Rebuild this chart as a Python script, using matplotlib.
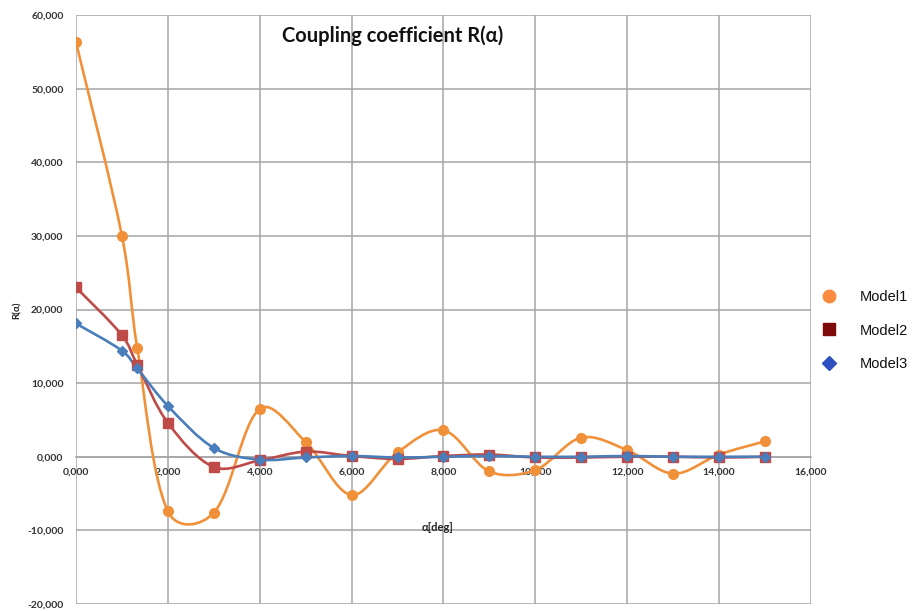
import numpy as np
import matplotlib
matplotlib.use("Agg")
import matplotlib.pyplot as plt
from matplotlib.path import Path
from matplotlib.patches import PathPatch
from matplotlib.lines import Line2D

# angle values shared by all three models
alpha = [0, 1, 1.333, 2, 3, 4, 5, 6, 7, 8, 9, 10, 11, 12, 13, 14, 15]

model1 = [56.3, 30.0, 14.8, -7.4, -7.6, 6.5, 2.0, -5.2, 0.6, 3.6, -2.0, -1.8, 2.6, 0.9, -2.3, 0.3, 2.1]
model2 = [23.0, 16.5, 12.5, 4.6, -1.4, -0.5, 0.7, 0.1, -0.3, 0.1, 0.3, -0.1, -0.1, 0.0, 0.0, -0.1, 0.0]
model3 = [18.1, 14.4, 12.0, 6.9, 1.2, -0.4, -0.1, 0.1, -0.1, 0.0, 0.1, 0.0, 0.0, 0.1, 0.0, 0.0, 0.0]

names = ["Model1", "Model2", "Model3"]
line_colors = ["#f0913a", "#be4b48", "#4a7ebb"]
legend_colors = ["#f98c3f", "#7e0a0a", "#2d4fbf"]
markers = ["o", "s", "D"]
msizes = [7, 7, 5.5]

FONT = "Lato"
# pixels per data unit, used to weight the curve tangents
SX, SY = 735 / 16, 589 / 80


def smooth_path(x, y):
    # Bezier curve through the points, tangents shortened next to short segments
    pts = np.column_stack([x, y]).astype(float)
    scr = pts * [SX, SY]
    n = len(pts)

    def dist(a, b):
        return np.hypot(*(scr[a] - scr[b]))

    def handle(i, j, k):
        # control offset at point j for the segment j -> k, with neighbour i on the other side
        d_in, d_out = dist(i, j), dist(j, k)
        w = (1 / 6 + d_out / (d_in + d_out) / 3) / 2 if d_in + d_out > 0 else 1 / 6
        return w

    verts = [pts[0]]
    codes = [Path.MOVETO]
    for i in range(n - 1):
        a = i - 1 if i > 0 else i
        d = i + 2 if i + 2 < n else i + 1
        w1 = handle(a, i, i + 1)
        w2 = handle(d, i + 1, i)
        c1 = pts[i] + (pts[i + 1] - pts[a]) * w1
        c2 = pts[i + 1] - (pts[d] - pts[i]) * w2
        verts += [c1, c2, pts[i + 1]]
        codes += [Path.CURVE4] * 3
    return Path(verts, codes)


def fmt(v, pos=None):
    return f"{v:.3f}".replace(".", ",")


fig = plt.figure(figsize=(9.14, 6.11), dpi=100)
ax = fig.add_axes([76 / 914, 7 / 611, 735 / 914, 589 / 611])

for ys, lc, mk, ms in zip([model1, model2, model3], line_colors, markers, msizes):
    ax.add_patch(PathPatch(smooth_path(alpha, ys), facecolor="none", edgecolor=lc, lw=1.9, zorder=3))
    ax.plot(alpha, ys, linestyle="none", marker=mk, markersize=ms, color=lc,
            markeredgecolor=lc, zorder=4)

ax.set_xlim(0, 16)
ax.set_ylim(-20, 60)
ax.set_xticks(np.arange(0, 17, 2))
ax.set_yticks(np.arange(-20, 61, 10))
ax.xaxis.set_major_formatter(plt.FuncFormatter(fmt))
ax.yaxis.set_major_formatter(plt.FuncFormatter(fmt))
ax.grid(True, color="#a6a6a6", lw=1.1)
ax.set_axisbelow(True)

for side in ["left", "right", "top"]:
    ax.spines[side].set_visible(False)
ax.spines["bottom"].set_position(("data", 0))
ax.spines["bottom"].set_color("#a6a6a6")
ax.spines["bottom"].set_linewidth(1.1)
ax.tick_params(length=0, labelsize=7.5, colors="#333333")
ax.tick_params(axis="x", pad=8)
ax.tick_params(axis="y", pad=9)
for lab in ax.get_xticklabels() + ax.get_yticklabels():
    lab.set_fontfamily(FONT)
    lab.set_fontweight("bold")

ax.text(7.87, -9.6, "α[deg]", fontsize=8, fontweight="bold", family=FONT,
        ha="center", va="center", color="#222222")
fig.text(17 / 914, 1 - 310 / 611, "R(α)", rotation=90, fontsize=7, fontweight="bold",
         family=FONT, ha="center", va="center", color="#222222")
fig.text(393 / 914, 1 - 36 / 611, "Coupling coefficient R(α)", fontsize=14.5,
         fontweight="bold", family=FONT, ha="center", va="center", color="#111111")

handles = [Line2D([], [], linestyle="none", marker=mk, markersize=s, color=c)
           for mk, s, c in zip(markers, [9, 8.5, 7.5], legend_colors)]
leg = fig.legend(handles, names, loc="upper left", bbox_to_anchor=(816 / 914, 1 - 284 / 611),
                 frameon=False, fontsize=10.5, labelspacing=1.35, handletextpad=1.6,
                 handlelength=1.0, borderaxespad=0)
for t in leg.get_texts():
    t.set_fontfamily("Liberation Sans")
    t.set_color("#111111")

fig.savefig("out.png", dpi=100)
